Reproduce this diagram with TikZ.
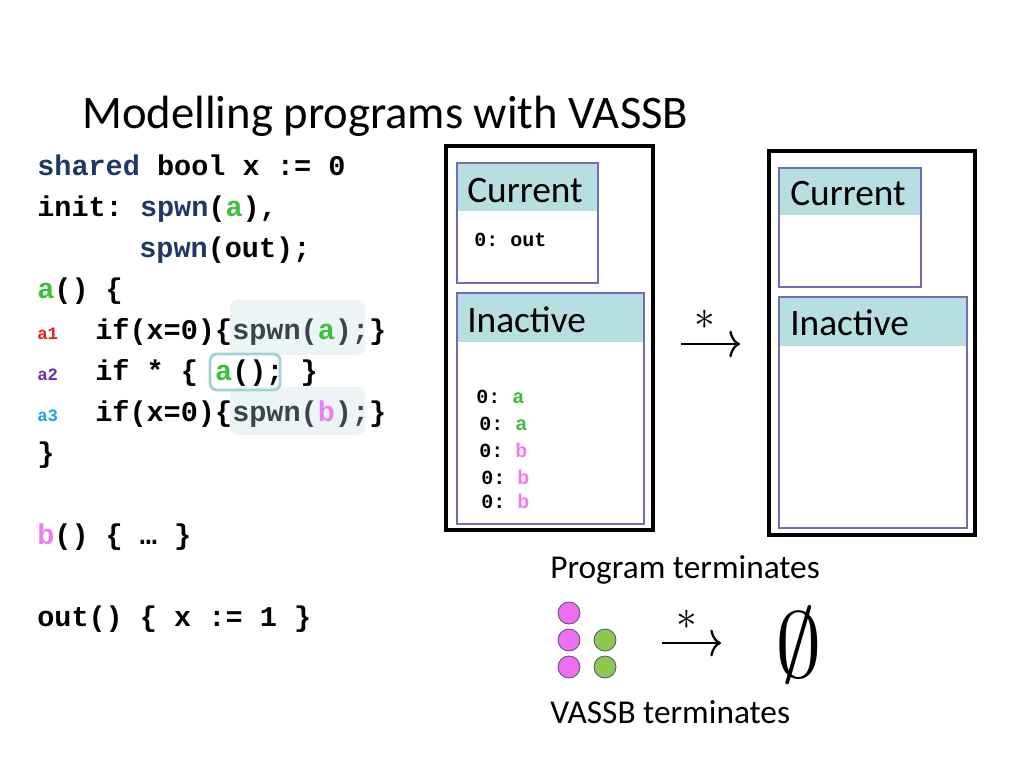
\documentclass[tikz,border=0pt]{standalone}
\usepackage{fontspec}
\usepackage{graphicx}
\usetikzlibrary{arrows.meta}
\setmainfont{Carlito}
\newfontfamily\cf{Liberation Mono}
\frenchspacing
\definecolor{navy}{HTML}{1F3864}
\definecolor{grn}{HTML}{3CBF3C}
\definecolor{pnk}{HTML}{EE7EEE}
\definecolor{lred}{HTML}{E02020}
\definecolor{lpur}{HTML}{7030A0}
\definecolor{lcyan}{HTML}{1AA7E0}
\definecolor{hlgray}{HTML}{3B4446}
\definecolor{hlfill}{HTML}{EDF4F6}
\definecolor{hlborder}{HTML}{A3D2D4}
\definecolor{hdr}{HTML}{B7DEE0}
\definecolor{bxline}{HTML}{6E6EB4}
\definecolor{dotpink}{HTML}{EE6EEE}
\definecolor{dotgreen}{HTML}{8CC850}
\definecolor{dotline}{HTML}{505080}
\newcommand{\nv}[1]{\textcolor{navy}{#1}}
\newcommand{\gr}[1]{\textcolor{grn}{#1}}
\newcommand{\pk}[1]{\textcolor{pnk}{#1}}
\begin{document}
\begin{tikzpicture}[x=0.75pt,y=-0.75pt,
  code/.style={anchor=base west,inner sep=0pt,font=\cf\bfseries\fontsize{21.4}{25}\selectfont},
  lbl/.style={anchor=base west,inner sep=0pt,font=\cf\bfseries\fontsize{13}{15}\selectfont},
  small/.style={anchor=base west,inner sep=0pt,font=\cf\bfseries\fontsize{15}{17}\selectfont},
  hdrtext/.style={anchor=base west,inner sep=0pt,font=\fontsize{28}{32}\selectfont},
  caption/.style={anchor=base west,inner sep=0pt,font=\fontsize{25}{30}\selectfont},
  outerbox/.style={draw=black,line width=2.5pt},
  innerbox/.style={draw=bxline,line width=0.9pt},
  hdrfill/.style={fill=hdr},
  hl/.style={fill=hlfill,rounded corners=6pt},
  dotP/.style={circle,draw=dotline,line width=0.6pt,fill=dotpink,minimum size=16.5pt,inner sep=0pt},
  dotG/.style={circle,draw=dotline,line width=0.6pt,fill=dotgreen,minimum size=16.5pt,inner sep=0pt},
  sym/.style={inner sep=0pt},
  bigarrow/.style={line width=1.7pt,-{Computer Modern Rightarrow[length=8pt,width=20pt,line width=1.7pt]}},
  star/.style={inner sep=0pt}
]
\useasboundingbox (0,0) rectangle (1024,768);
\fill[white] (0,0) rectangle (1024,768);

% title
\node[anchor=base west,inner sep=0pt,font=\fontsize{35}{40}\selectfont] (title) at (82,128) {Modelling programs with VASSB};

% highlights
\fill[hl] (230,300) rectangle (365,355);
\fill[hl] (230,387) rectangle (365,435);
\draw[hlborder,line width=2.2pt,rounded corners=5pt] (210,354) rectangle (280,390);

% code
\node[code] (l1) at (37,175) {\nv{shared} bool x := 0};
\node[code] (l2) at (37,216) {init: \nv{spwn}(\gr{a}),};
\node[code] (l3) at (139,257) {\nv{spwn}(out);};
\node[code] (l4) at (37,298) {\gr{a}() \{};
\node[lbl,text=lred] (a1) at (37,339) {a1};
\node[code] (l5) at (95,339) {if(x=0)\{\textcolor{hlgray}{spwn(\gr{a});}\}};
\node[lbl,text=lpur] (a2) at (37,380) {a2};
\node[code] (l6) at (95,380) {if * \{ \gr{a}(); \}};
\node[lbl,text=lcyan] (a3) at (37,421) {a3};
\node[code] (l7) at (95,421) {if(x=0)\{\textcolor{hlgray}{spwn(\pk{b});}\}};
\node[code] (l8) at (37,462) {\}};
\node[code] (l9) at (37,544) {\pk{b}() \{ … \}};
\node[code] (l10) at (37,626) {out() \{ x := 1 \}};

% left configuration
\draw[outerbox] (446,146) rectangle (653,530);
\fill[hdrfill] (457,163) rectangle (598,211);
\draw[innerbox] (457,163) rectangle (598,283);
\fill[hdrfill] (457,293) rectangle (644,342);
\draw[innerbox] (457,293) rectangle (644,524);
\node[hdrtext] (cur1) at (467,202) {Current};
\node[hdrtext] (ina1) at (467,332) {Inactive};
\node[small] (c1) at (474,246) {0: out};
\node[small] (i1) at (476,403) {0: \gr{a}};
\node[small] (i2) at (479,430) {0: \gr{a}};
\node[small] (i3) at (479,457) {0: \pk{b}};
\node[small] (i4) at (481,484) {0: \pk{b}};
\node[small] (i5) at (481,508) {0: \pk{b}};

% middle arrow
\coordinate (m1s) at (681,344);
\coordinate (m1e) at (740,344);
\draw[bigarrow] (m1s) -- (m1e);
\node[star] (star1) at (705,320) {\scalebox{3.1}{$\ast$}};

% right configuration
\draw[outerbox] (769,151) rectangle (975,535);
\fill[hdrfill] (779,168) rectangle (921,215);
\draw[innerbox] (779,168) rectangle (921,287);
\fill[hdrfill] (779,297) rectangle (967,346);
\draw[innerbox] (779,297) rectangle (967,528);
\node[hdrtext] (cur2) at (790,205) {Current};
\node[hdrtext] (ina2) at (790,335) {Inactive};

% termination
\node[caption] (pt) at (550,578) {Program terminates};
\node[dotP] (p1) at (569,613) {};
\node[dotP] (p2) at (569,640) {};
\node[dotP] (p3) at (569,667) {};
\node[dotG] (g1) at (605,640) {};
\node[dotG] (g2) at (605,667) {};
\coordinate (m2s) at (662,643);
\coordinate (m2e) at (721,643);
\draw[bigarrow] (m2s) -- (m2e);
\node[star] (star2) at (687,620) {\scalebox{3.1}{$\ast$}};
\node[sym] (empty) at (799,645) {\scalebox{7}{$\emptyset$}};
\node[caption] (vt) at (550,723) {VASSB terminates};
\end{tikzpicture}
\end{document}
